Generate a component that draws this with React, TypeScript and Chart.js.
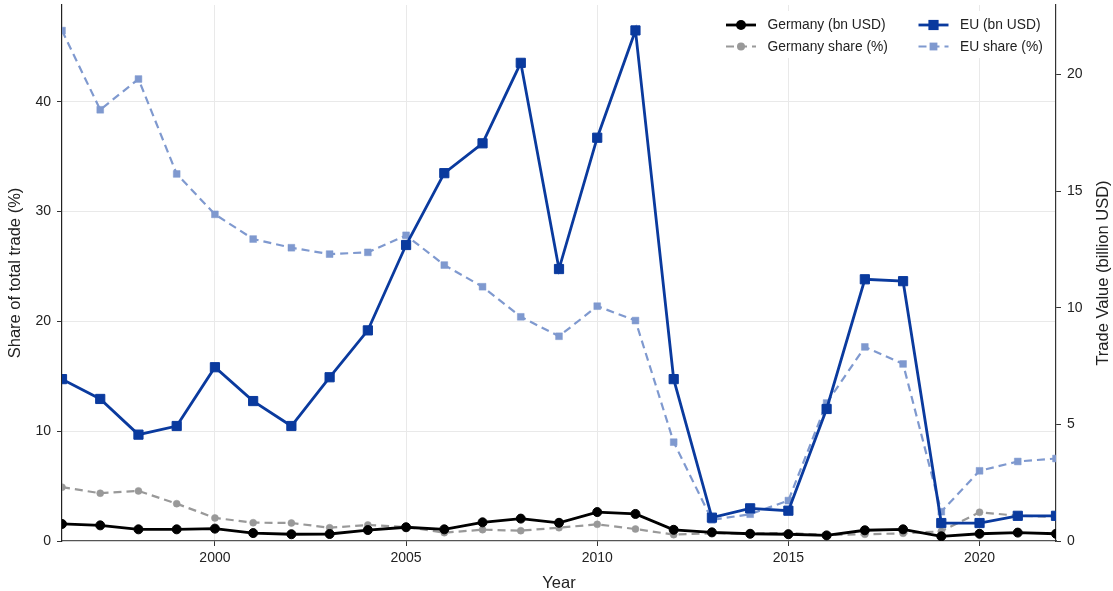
import React, { useEffect, useRef } from "react";
import { Chart, registerables } from "chart.js";

Chart.register(...registerables);

const years = [1996, 1997, 1998, 1999, 2000, 2001, 2002, 2003, 2004, 2005, 2006, 2007, 2008, 2009, 2010, 2011, 2012, 2013, 2014, 2015, 2016, 2017, 2018, 2019, 2020, 2021, 2022];

// Trade value, billion USD (right axis)
const germanyBn = [0.73, 0.67, 0.5, 0.5, 0.53, 0.34, 0.29, 0.3, 0.47, 0.59, 0.5, 0.8, 0.96, 0.78, 1.24, 1.16, 0.48, 0.37, 0.31, 0.29, 0.24, 0.46, 0.5, 0.2, 0.31, 0.36, 0.31];
const euBn = [6.94, 6.09, 4.56, 4.93, 7.45, 6.0, 4.93, 7.02, 9.03, 12.69, 15.77, 17.05, 20.5, 11.66, 17.29, 21.89, 6.94, 1.0, 1.4, 1.3, 5.66, 11.22, 11.14, 0.77, 0.77, 1.08, 1.08];

// Share of total trade, % (left axis)
const germanyShare = [4.9, 4.35, 4.56, 3.4, 2.1, 1.67, 1.64, 1.21, 1.46, 1.28, 0.76, 1.03, 0.94, 1.21, 1.52, 1.09, 0.58, 0.7, 0.68, 0.73, 0.55, 0.61, 0.7, 0.88, 2.62, 2.3, 2.2];
const euShare = [46.47, 39.26, 42.06, 33.42, 29.74, 27.49, 26.7, 26.12, 26.28, 27.83, 25.12, 23.15, 20.41, 18.64, 21.38, 20.07, 9.0, 1.92, 2.44, 3.68, 12.56, 17.67, 16.12, 2.67, 6.39, 7.24, 7.51];

const xTicks = [2000, 2005, 2010, 2015, 2020];
const leftTicks = [0, 10, 20, 30, 40];
const rightTicks = [0, 5, 10, 15, 20];
const xMin = 1996;
const xMax = 2022;
const leftMax = 48.8;
const rightMax = 22.98;

const labels = {
  germanyBn: "Germany (bn USD)",
  euBn: "EU (bn USD)",
  germanyShare: "Germany share (%)",
  euShare: "EU share (%)",
  x: "Year",
  left: "Share of total trade (%)",
  right: "Trade Value (billion USD)",
};

const FONT = "'Liberation Sans', Arial, Helvetica, sans-serif";
const C_BLACK = "#000000";
const C_GREY = "#999999";
const C_EU = "#0a3a9e";
const C_EU_LIGHT = "#7f99cf";

const pts = (vals: number[]) => years.map((y, i) => ({ x: y, y: vals[i] }));

const legendPlugin = {
  id: "customLegendAndTitle",
  afterDraw(chart: any) {
    const ctx = chart.ctx as CanvasRenderingContext2D;
    ctx.save();
    // legend background
    ctx.fillStyle = "#ffffff";
    ctx.fillRect(712, 11, 338, 47);

    const ds = chart.data.datasets;
    const layout = [
      { idx: 0, col: 0, row: 0 },
      { idx: 2, col: 1, row: 0 },
      { idx: 1, col: 0, row: 1 },
      { idx: 3, col: 1, row: 1 },
    ];
    const colX = [726, 918.5];
    const rowY = [25, 46.5];
    const lineLen = 30;
    for (const it of layout) {
      const d = ds[it.idx];
      const x0 = colX[it.col];
      const y = rowY[it.row];
      ctx.strokeStyle = d.borderColor;
      ctx.lineWidth = d.borderWidth;
      ctx.setLineDash(d.borderDash || []);
      ctx.beginPath();
      ctx.moveTo(x0, y);
      ctx.lineTo(x0 + lineLen, y);
      ctx.stroke();
      ctx.setLineDash([]);
      const cx = x0 + lineLen / 2;
      ctx.fillStyle = d.pointBackgroundColor;
      if (d.pointStyle === "rect") {
        const s = d.pointRadius * Math.SQRT1_2 + 0.5;
        ctx.fillRect(cx - s, y - s, 2 * s, 2 * s);
      } else {
        ctx.beginPath();
        ctx.arc(cx, y, d.pointRadius + 0.5, 0, Math.PI * 2);
        ctx.fill();
      }
      ctx.fillStyle = "#222";
      ctx.font = `13.8px ${FONT}`;
      ctx.textAlign = "left";
      ctx.textBaseline = "middle";
      ctx.fillText(d.label, x0 + lineLen + 11.5, y + 0.5);
    }

    // right axis title (reads bottom-to-top)
    const ca = chart.chartArea;
    ctx.translate(1103.5, (ca.top + ca.bottom) / 2);
    ctx.rotate(-Math.PI / 2);
    ctx.fillStyle = "#222";
    ctx.font = `16.5px ${FONT}`;
    ctx.textAlign = "center";
    ctx.textBaseline = "middle";
    ctx.fillText(labels.right, 0, 0);
    ctx.restore();
  },
};

export default function App() {
  const ref = useRef<HTMLCanvasElement | null>(null);

  useEffect(() => {
    if (!ref.current) return;
    Chart.defaults.font.family = FONT;
    const chart = new Chart(ref.current, {
      type: "line",
      data: {
        datasets: [
          {
            label: labels.germanyBn,
            data: pts(germanyBn),
            yAxisID: "y1",
            borderColor: C_BLACK,
            backgroundColor: C_BLACK,
            pointBackgroundColor: C_BLACK,
            pointBorderColor: C_BLACK,
            borderWidth: 2.8,
            pointRadius: 4.5,
            pointBorderWidth: 1,
            pointStyle: "circle",
            tension: 0,
            clip: 0,
            order: 2,
          } as any,
          {
            label: labels.germanyShare,
            data: pts(germanyShare),
            yAxisID: "y",
            borderColor: C_GREY,
            backgroundColor: C_GREY,
            pointBackgroundColor: C_GREY,
            pointBorderColor: C_GREY,
            borderWidth: 2.2,
            borderDash: [8, 5],
            pointRadius: 3.5,
            pointBorderWidth: 0.5,
            pointStyle: "circle",
            tension: 0,
            clip: 0,
            order: 4,
          } as any,
          {
            label: labels.euBn,
            data: pts(euBn),
            yAxisID: "y1",
            borderColor: C_EU,
            backgroundColor: C_EU,
            pointBackgroundColor: C_EU,
            pointBorderColor: C_EU,
            borderWidth: 2.8,
            pointRadius: 6.5,
            pointBorderWidth: 1,
            pointStyle: "rect",
            tension: 0,
            clip: 0,
            order: 1,
          } as any,
          {
            label: labels.euShare,
            data: pts(euShare),
            yAxisID: "y",
            borderColor: C_EU_LIGHT,
            backgroundColor: C_EU_LIGHT,
            pointBackgroundColor: C_EU_LIGHT,
            pointBorderColor: C_EU_LIGHT,
            borderWidth: 2.2,
            borderDash: [8, 5],
            pointRadius: 4.8,
            pointBorderWidth: 0.5,
            pointStyle: "rect",
            tension: 0,
            clip: 0,
            order: 3,
          } as any,
        ],
      },
      options: {
        responsive: false,
        devicePixelRatio: 1,
        animation: false,
        events: [],
        layout: { autoPadding: false, padding: { top: 5, left: 0, right: 0, bottom: 0 } },
        plugins: {
          legend: { display: false },
          tooltip: { enabled: false },
          title: { display: false },
        },
        scales: {
          x: {
            type: "linear",
            min: xMin,
            max: xMax,
            afterBuildTicks: (s: any) => {
              s.ticks = xTicks.map((v) => ({ value: v }));
            },
            afterFit: (s: any) => {
              s.height = 50;
              s.paddingLeft = 0;
              s.paddingRight = 0;
            },
            ticks: {
              callback: (v: any) => String(v),
              font: { size: 14 },
              color: "#222",
              padding: 4,
              maxRotation: 0,
              autoSkip: false,
            },
            grid: {
              color: "#e9e9e9",
              lineWidth: 1,
              tickColor: "#333",
              tickLength: 5,
              drawTicks: true,
            },
            border: { color: "#555", width: 1.2 },
            title: {
              display: true,
              text: labels.x,
              color: "#222",
              font: { size: 16.5, lineHeight: 1 },
              padding: { top: 0, bottom: -1 },
            },
          },
          y: {
            type: "linear",
            position: "left",
            min: 0,
            max: leftMax,
            afterBuildTicks: (s: any) => {
              s.ticks = leftTicks.map((v) => ({ value: v }));
            },
            afterFit: (s: any) => {
              s.width = 62;
              s.paddingTop = 0;
              s.paddingBottom = 0;
            },
            ticks: {
              callback: (v: any) => String(v),
              font: { size: 14 },
              color: "#222",
              padding: 6,
            },
            grid: {
              color: (c: any) => (c.tick && c.tick.value === 0 ? "rgba(0,0,0,0)" : "#e9e9e9"),
              lineWidth: 1,
              tickColor: "#333",
              tickLength: 5,
              drawTicks: true,
            },
            border: { color: "#222", width: 1.2 },
            title: {
              display: true,
              text: labels.left,
              color: "#222",
              font: { size: 16.5, lineHeight: 1 },
              padding: { top: 7, bottom: 0 },
            },
          },
          y1: {
            type: "linear",
            position: "right",
            min: 0,
            max: rightMax,
            afterBuildTicks: (s: any) => {
              s.ticks = rightTicks.map((v) => ({ value: v }));
            },
            afterFit: (s: any) => {
              s.width = 57;
              s.paddingTop = 0;
              s.paddingBottom = 0;
            },
            ticks: {
              callback: (v: any) => String(v),
              font: { size: 14 },
              color: "#222",
              padding: 6,
            },
            grid: {
              display: true,
              drawOnChartArea: false,
              tickColor: "#333",
              tickLength: 5,
              drawTicks: true,
            },
            border: { color: "#333", width: 1.2 },
            title: { display: false },
          },
        },
      } as any,
      plugins: [legendPlugin],
    });
    return () => chart.destroy();
  }, []);

  return (
    <div style={{ position: "fixed", left: 0, top: 0, width: 1113, height: 591, background: "#fff" }}>
      <canvas ref={ref} width={1113} height={591} style={{ display: "block" }} />
    </div>
  );
}
